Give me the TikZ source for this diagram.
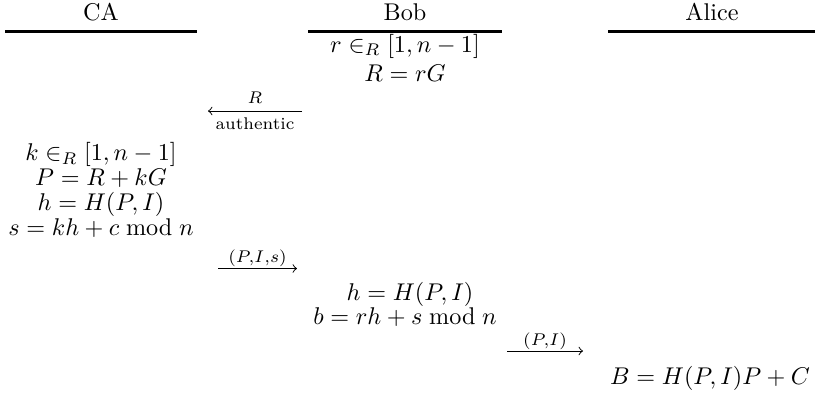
\documentclass[tikz,border=0pt]{standalone}
\usepackage{amsmath}
\begin{document}
\begin{tikzpicture}[x=0.4132pt,y=-0.4132pt,
  txt/.style={inner sep=0pt,anchor=base},
  lbl/.style={inner sep=0pt,anchor=base},
  hline/.style={line width=1.1pt},
  msg/.style={line width=0.4pt,->}]
\useasboundingbox (0,0) rectangle (815,398);
% headers
\node[txt] (ca) at (101,20) {CA};
\node[txt] (bob) at (405,20) {Bob};
\node[txt] (alice) at (712,20) {Alice};
\coordinate (caL) at (5,31.5); \coordinate (caR) at (197,31.5);
\coordinate (bobL) at (308,31.5); \coordinate (bobR) at (502,31.5);
\coordinate (alL) at (608,31.5); \coordinate (alR) at (815,31.5);
\draw[hline] (caL) -- (caR);
\draw[hline] (bobL) -- (bobR);
\draw[hline] (alL) -- (alR);
% Bob step 1
\node[txt] (b1) at (405,52) {$r\in_R[1,n-1]$};
\node[txt] (b2) at (405,81) {$R=rG$};
% arrow R
\coordinate (a1s) at (302,111); \coordinate (a1e) at (208,111);
\draw[msg] (a1s) -- (a1e);
\node[lbl] (a1t) at (255,103) {$\scriptstyle R$};
\node[lbl] (a1b) at (255,129) {\scriptsize authentic};
% CA
\node[txt] (c1) at (101,160.5) {$k\in_R[1,n-1]$};
\node[txt] (c2) at (101,185.5) {$P=R+kG$};
\node[txt] (c3) at (101,210) {$h=H(P,I)$};
\node[txt] (c4) at (101,235) {$s=kh+c \bmod n$};
% arrow (P,I,s)
\coordinate (a2s) at (218,268.5); \coordinate (a2e) at (297,268.5);
\draw[msg] (a2s) -- (a2e);
\node[lbl] (a2t) at (257.5,262) {$\scriptstyle (P,I,s)$};
% Bob step 2
\node[txt] (b3) at (410,300) {$h=H(P,I)$};
\node[txt] (b4) at (405,324) {$b=rh+s \bmod n$};
% arrow (P,I)
\coordinate (a3s) at (507,351); \coordinate (a3e) at (583,351);
\draw[msg] (a3s) -- (a3e);
\node[lbl] (a3t) at (545,345) {$\scriptstyle (P,I)$};
% Alice
\node[txt] (al1) at (710,384) {$B=H(P,I)P+C$};
\end{tikzpicture}
\end{document}
